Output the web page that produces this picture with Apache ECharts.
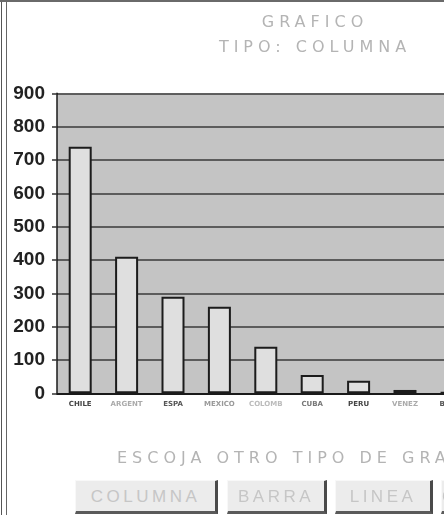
<!DOCTYPE html>
<html>
<head>
<meta charset="utf-8">
<script src="https://cdn.jsdelivr.net/npm/echarts@6/dist/echarts.min.js"></script>
<style>
  html, body { margin: 0; padding: 0; background: #fff; overflow: hidden; }
  #page { position: relative; width: 444px; height: 515px; overflow: hidden; }
  #frameL { position: absolute; left: 1px; top: 0; width: 4px; height: 515px;
            border-left: 1.5px solid #555; border-right: 1.5px solid #666; }
  #frameT { position: absolute; left: 0; top: 0; width: 444px; height: 0; border-top: 2px solid #6a6a6a; }
  /* the plot runs past the right edge of the page and is clipped there */
  #chart { position: absolute; left: 0; top: 0; width: 520px; height: 515px; }
  .txt { position: absolute; white-space: nowrap; color: #b4b4b4;
         font-family: "DejaVu Sans", sans-serif; font-size: 16px; letter-spacing: 5px; }
  .btn { position: absolute; top: 480px; height: 34px; box-sizing: border-box;
         background: #ececec; border-top: 1px solid #f8f8f8; border-left: 1px solid #f8f8f8;
         border-right: 3px solid #4a4a4a; border-bottom: 3px solid #5a5a5a;
         color: #c6c6c6; font-family: "Liberation Sans", Arial, sans-serif; font-size: 17px;
         letter-spacing: 3.5px; line-height: 31px; text-align: center; white-space: nowrap; overflow: hidden; }
</style>
</head>
<body>
<div id="page">
  <div id="chart"></div>
  <div id="frameL"></div>
  <div id="frameT"></div>
  <div class="txt" id="t1" style="left:0; width:630px; text-align:center; top:12px;">GRAFICO</div>
  <div class="txt" id="t2" style="left:0; width:630px; text-align:center; top:37px;">TIPO: COLUMNA</div>
  <div class="txt" id="t3" style="left:117px; top:448px;">ESCOJA OTRO TIPO DE GRAFICO</div>
  <div class="btn" style="left:75px; width:143px;">COLUMNA</div>
  <div class="btn" style="left:227px; width:100px;">BARRA</div>
  <div class="btn" style="left:335px; width:98px;">LINEA</div>
  <div class="btn" style="left:441px; width:90px;">CIRCULAR</div>
</div>
<script>
// Categories along the bottom axis and their column heights
var categories = ['CHILE', 'ARGENT', 'ESPA', 'MEXICO', 'COLOMB', 'CUBA', 'PERU', 'VENEZ', 'BOLIV'];
var values = [740, 410, 290, 260, 140, 55, 38, 10, 4];
// Value axis ticks
var yMin = 0, yMax = 900, yStep = 100;
var labelTones = ['#444', '#aaa', '#555', '#999', '#bbb', '#777', '#444', '#aaa', '#555'];

var chart = echarts.init(document.getElementById('chart'), null, { renderer: 'canvas' });

chart.setOption({
  animation: false,
  grid: {
    left: 57, top: 93.3, height: 300, width: 417.6,
    show: true, backgroundColor: '#c4c4c4', borderWidth: 0
  },
  xAxis: {
    type: 'category',
    data: categories.map(function (c, i) {
      return { value: c, textStyle: { color: labelTones[i] } };
    }),
    boundaryGap: true,
    axisLine: { show: true, lineStyle: { color: '#1a1a1a', width: 2 } },
    axisTick: { show: false },
    axisLabel: { fontSize: 7, fontWeight: 'bold', fontFamily: 'DejaVu Sans', margin: 7 },
    splitLine: { show: false }
  },
  yAxis: {
    type: 'value', min: yMin, max: yMax, interval: yStep,
    axisLine: { show: true, lineStyle: { color: '#1a1a1a', width: 1.5 } },
    axisTick: { show: true, length: 5, lineStyle: { color: '#333', width: 1.5 } },
    axisLabel: {
      color: '#222', fontSize: 19, fontWeight: 'bold',
      fontFamily: '"Liberation Sans", Arial, sans-serif', margin: 12
    },
    splitLine: { show: true, lineStyle: { color: '#3a3a3a', width: 1.5 } }
  },
  series: [{
    type: 'bar',
    data: values,
    barWidth: 23,
    itemStyle: { color: '#dfdfdf', borderColor: '#1c1c1c', borderWidth: 2 }
  }]
});
</script>
</body>
</html>
